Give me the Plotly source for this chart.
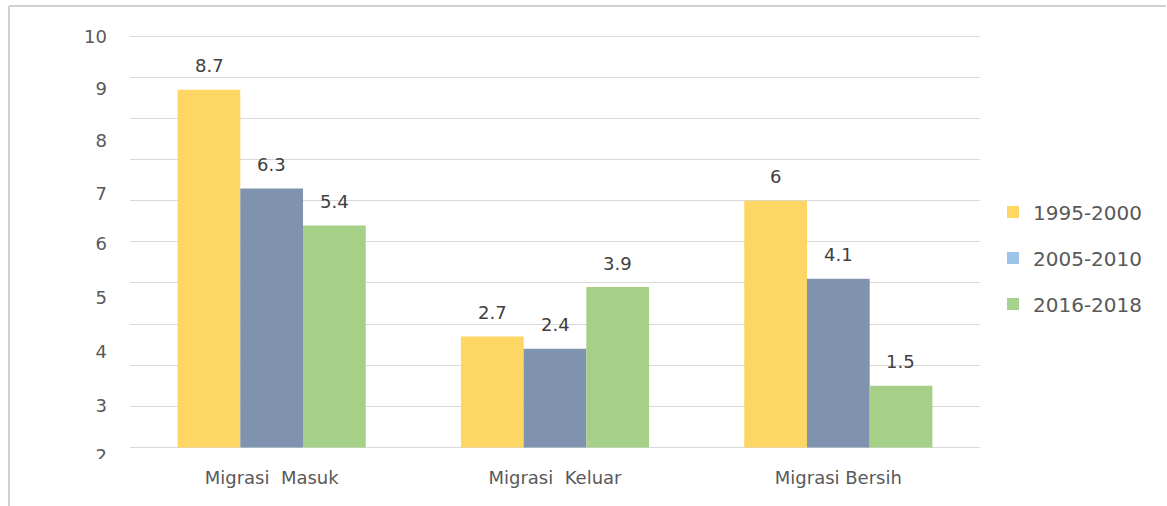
import plotly.graph_objects as go

categories = ["Migrasi  Masuk", "Migrasi  Keluar", "Migrasi Bersih"]
series_names = ["1995-2000", "2005-2010", "2016-2018"]
v_1995_2000 = [8.7, 2.7, 6.0]
v_2005_2010 = [6.3, 2.4, 4.1]
v_2016_2018 = [5.4, 3.9, 1.5]
value_labels = [["8.7", "2.7", "6"], ["6.3", "2.4", "4.1"], ["5.4", "3.9", "1.5"]]
# axis tick labels as printed in the source image (positions as drawn)
ytick_text = ["10", "9", "8", "7", "6", "5", "4", "3", "2"]
ytick_pos = [9.98, 8.73, 7.47, 6.18, 4.95, 3.65, 2.33, 1.02, -0.2]

bar_colors = ["#FDD663", "#7F93AF", "#A6CF88"]
legend_colors = ["#FDD663", "#9DC3E6", "#A9D18E"]
values = [v_1995_2000, v_2005_2010, v_2016_2018]

W, H = 1167, 506
YMIN, YMAX = -0.5, 10.03
L, R, T, B = 130, 187, 35, 38
pw, ph = W - L - R, H - T - B

fig = go.Figure()
for i, (name, vals) in enumerate(zip(series_names, values)):
    fig.add_trace(go.Bar(x=categories, y=vals, name=name, marker_color=bar_colors[i],
                         marker_line_width=0, showlegend=False))
for i, name in enumerate(series_names):
    fig.add_trace(go.Scatter(x=[None], y=[None], mode="markers", name=name,
                             legendgroup=name,
                             marker=dict(symbol="square", size=10, color=legend_colors[i])))

bar_px = 62.6
for i in range(3):
    for j, c in enumerate(categories):
        fig.add_annotation(x=c, y=values[i][j], text=value_labels[i][j], showarrow=False,
                           xshift=(i - 1) * bar_px, yshift=24, yanchor="middle",
                           font=dict(size=18, color="#404040"))

# invisible trace on overlay axis for the printed tick labels
fig.add_trace(go.Scatter(x=[None], y=[None], yaxis="y2", showlegend=False))

font_family = "'DejaVu Sans', sans-serif"
fig.update_layout(
    width=W, height=H,
    margin=dict(l=L, r=R, t=T, b=B),
    paper_bgcolor="white", plot_bgcolor="white",
    barmode="group", bargap=0.336, bargroupgap=0,
    font=dict(family=font_family, size=18, color="#595959"),
    xaxis=dict(showgrid=False, showline=False, zeroline=False, ticks="",
               tickfont=dict(size=18, color="#595959"), ticklabelstandoff=-3),
    yaxis=dict(range=[YMIN, YMAX], tickvals=list(range(0, 11)), showticklabels=False,
               showgrid=True, gridcolor="#D9D9D9", gridwidth=1, zeroline=False,
               showline=False, ticks=""),
    yaxis2=dict(range=[YMIN, YMAX], overlaying="y", side="left", tickmode="array",
                tickvals=ytick_pos, ticktext=ytick_text, showgrid=False,
                zeroline=False, showline=False, ticks="",
                tickfont=dict(size=18, color="#595959"), ticklabelstandoff=22),
    legend=dict(x=(993 - L) / pw, xanchor="left",
                y=(H - B - 258) / ph, yanchor="middle",
                font=dict(size=20, color="#595959"), tracegroupgap=17,
                itemsizing="constant", bgcolor="rgba(0,0,0,0)"),
    showlegend=True,
)

def px_x(p):
    return (p - L) / pw

def px_y(p):
    return (H - B - p) / ph

# outer frame lines (top and left) as in the image
fig.add_shape(type="line", xref="paper", yref="paper", x0=px_x(9), x1=px_x(1166),
              y0=px_y(6), y1=px_y(6), line=dict(color="#D0D0D0", width=2))
fig.add_shape(type="line", xref="paper", yref="paper", x0=px_x(9), x1=px_x(9),
              y0=px_y(6), y1=px_y(506), line=dict(color="#D0D0D0", width=2))
# clip of the bottom tick label as in the source image
fig.add_shape(type="rect", xref="paper", yref="paper", x0=px_x(12), x1=px_x(125),
              y0=px_y(459), y1=px_y(506), fillcolor="white", line=dict(width=0), layer="above")

fig.write_html("out.html", config={"displayModeBar": False},
               post_script="document.body.style.margin='0';")
